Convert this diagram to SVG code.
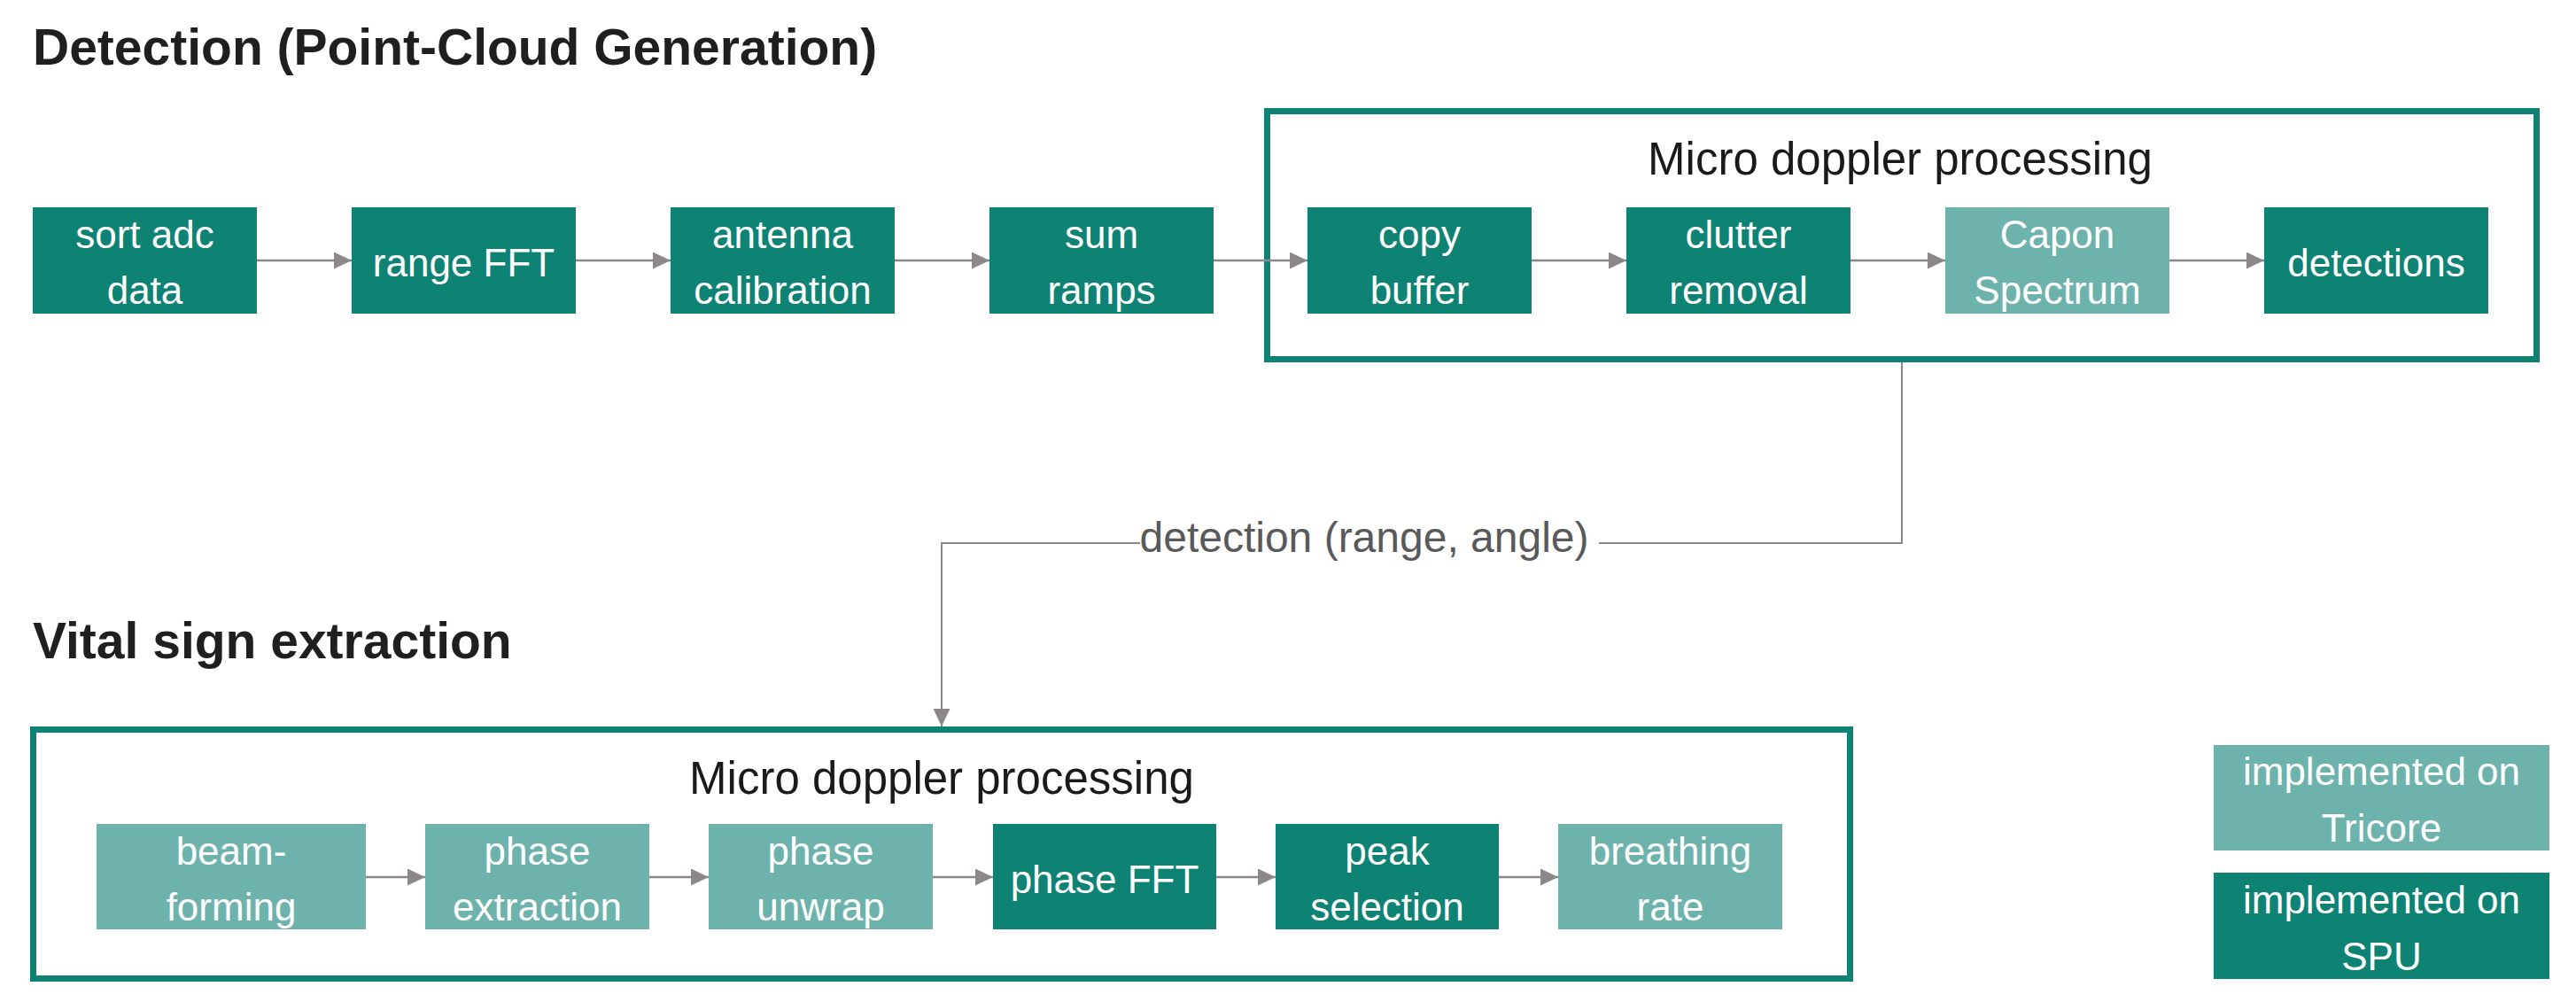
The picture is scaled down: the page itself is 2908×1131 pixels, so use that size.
<svg xmlns="http://www.w3.org/2000/svg" width="2908" height="1131" viewBox="0 0 2908 1131">
<style>
  .title { font-family: "Liberation Sans", Arial, sans-serif; font-weight: bold; font-size: 57px; fill: #1f1f1f; }
  .group-title { font-family: "Liberation Sans", Arial, sans-serif; font-size: 51px; fill: #1a1a1a; text-anchor: middle; }
  .frame { fill: none; stroke: #0e8374; stroke-width: 7; }
  .dark { fill: #0e8374; }
  .light { fill: #6db3ac; }
  .lbl { font-family: "Liberation Sans", Arial, sans-serif; font-size: 44px; fill: #ffffff; text-anchor: middle; }
  .flow { stroke: #8c8888; stroke-width: 2.5; fill: none; marker-end: url(#ah); }
  .link { stroke: #8c8888; stroke-width: 2; fill: none; }
  .edge-label { font-family: "Liberation Sans", Arial, sans-serif; font-size: 48px; fill: #595959; text-anchor: middle; }
</style>
<defs>
  <marker id="ah" markerUnits="userSpaceOnUse" markerWidth="20" markerHeight="19" refX="20" refY="9.5" orient="auto" viewBox="0 0 20 19">
    <path d="M0,0 L20,9.5 L0,19 Z" fill="#8c8888"/>
  </marker>
</defs>
<rect width="2908" height="1131" fill="#ffffff"/>

<text class="title" x="37" y="73">Detection (Point-Cloud Generation)</text>
<text class="title" x="37" y="743">Vital sign extraction</text>

<g id="frame-detection">
  <rect class="frame" x="1430.5" y="125.5" width="1433" height="280"/>
  <text class="group-title" x="2145" y="197">Micro doppler processing</text>
</g>
<g id="frame-vital">
  <rect class="frame" x="37.5" y="823.5" width="2051" height="281"/>
  <text class="group-title" x="1063" y="896">Micro doppler processing</text>
</g>

<g id="connectors">
  <line class="flow" x1="290" y1="294" x2="397" y2="294"/>
  <line class="flow" x1="650" y1="294" x2="757" y2="294"/>
  <line class="flow" x1="1010" y1="294" x2="1117" y2="294"/>
  <line class="flow" x1="1370" y1="294" x2="1476" y2="294"/>
  <line class="flow" x1="1729" y1="294" x2="1836" y2="294"/>
  <line class="flow" x1="2089" y1="294" x2="2196" y2="294"/>
  <line class="flow" x1="2449" y1="294" x2="2556" y2="294"/>

  <line class="flow" x1="413" y1="990" x2="480" y2="990"/>
  <line class="flow" x1="733" y1="990" x2="800" y2="990"/>
  <line class="flow" x1="1053" y1="990" x2="1121" y2="990"/>
  <line class="flow" x1="1373" y1="990" x2="1440" y2="990"/>
  <line class="flow" x1="1692" y1="990" x2="1759" y2="990"/>

  <polyline class="link" points="2147,409 2147,613 1805,613"/>
  <polyline class="link" points="1287,613 1063,613 1063,820" style="marker-end:url(#ah)"/>
  <text class="edge-label" x="1540" y="623">detection (range, angle)</text>
</g>

<g id="sort-adc-data">
  <rect class="dark" x="37" y="234" width="253" height="120"/>
  <text class="lbl" x="163.5" y="280">sort adc</text>
  <text class="lbl" x="163.5" y="343">data</text>
</g>
<g id="range-fft">
  <rect class="dark" x="397" y="234" width="253" height="120"/>
  <text class="lbl" x="523.5" y="312">range FFT</text>
</g>
<g id="antenna-calibration">
  <rect class="dark" x="757" y="234" width="253" height="120"/>
  <text class="lbl" x="883.5" y="280">antenna</text>
  <text class="lbl" x="883.5" y="343">calibration</text>
</g>
<g id="sum-ramps">
  <rect class="dark" x="1117" y="234" width="253" height="120"/>
  <text class="lbl" x="1243.5" y="280">sum</text>
  <text class="lbl" x="1243.5" y="343">ramps</text>
</g>
<g id="copy-buffer">
  <rect class="dark" x="1476" y="234" width="253" height="120"/>
  <text class="lbl" x="1602.5" y="280">copy</text>
  <text class="lbl" x="1602.5" y="343">buffer</text>
</g>
<g id="clutter-removal">
  <rect class="dark" x="1836" y="234" width="253" height="120"/>
  <text class="lbl" x="1962.5" y="280">clutter</text>
  <text class="lbl" x="1962.5" y="343">removal</text>
</g>
<g id="capon-spectrum">
  <rect class="light" x="2196" y="234" width="253" height="120"/>
  <text class="lbl" x="2322.5" y="280">Capon</text>
  <text class="lbl" x="2322.5" y="343">Spectrum</text>
</g>
<g id="detections">
  <rect class="dark" x="2556" y="234" width="253" height="120"/>
  <text class="lbl" x="2682.5" y="312">detections</text>
</g>

<g id="beam-forming">
  <rect class="light" x="109" y="930" width="304" height="119"/>
  <text class="lbl" x="261" y="976">beam-</text>
  <text class="lbl" x="261" y="1039">forming</text>
</g>
<g id="phase-extraction">
  <rect class="light" x="480" y="930" width="253" height="119"/>
  <text class="lbl" x="606.5" y="976">phase</text>
  <text class="lbl" x="606.5" y="1039">extraction</text>
</g>
<g id="phase-unwrap">
  <rect class="light" x="800" y="930" width="253" height="119"/>
  <text class="lbl" x="926.5" y="976">phase</text>
  <text class="lbl" x="926.5" y="1039">unwrap</text>
</g>
<g id="phase-fft">
  <rect class="dark" x="1121" y="930" width="252" height="119"/>
  <text class="lbl" x="1247" y="1008">phase FFT</text>
</g>
<g id="peak-selection">
  <rect class="dark" x="1440" y="930" width="252" height="119"/>
  <text class="lbl" x="1566" y="976">peak</text>
  <text class="lbl" x="1566" y="1039">selection</text>
</g>
<g id="breathing-rate">
  <rect class="light" x="1759" y="930" width="253" height="119"/>
  <text class="lbl" x="1885.5" y="976">breathing</text>
  <text class="lbl" x="1885.5" y="1039">rate</text>
</g>

<g id="legend-tricore">
  <rect class="light" x="2499" y="841" width="379" height="119"/>
  <text class="lbl" x="2688.5" y="886">implemented on</text>
  <text class="lbl" x="2688.5" y="950">Tricore</text>
</g>
<g id="legend-spu">
  <rect class="dark" x="2499" y="985" width="379" height="120"/>
  <text class="lbl" x="2688.5" y="1031">implemented on</text>
  <text class="lbl" x="2688.5" y="1095">SPU</text>
</g>
</svg>
